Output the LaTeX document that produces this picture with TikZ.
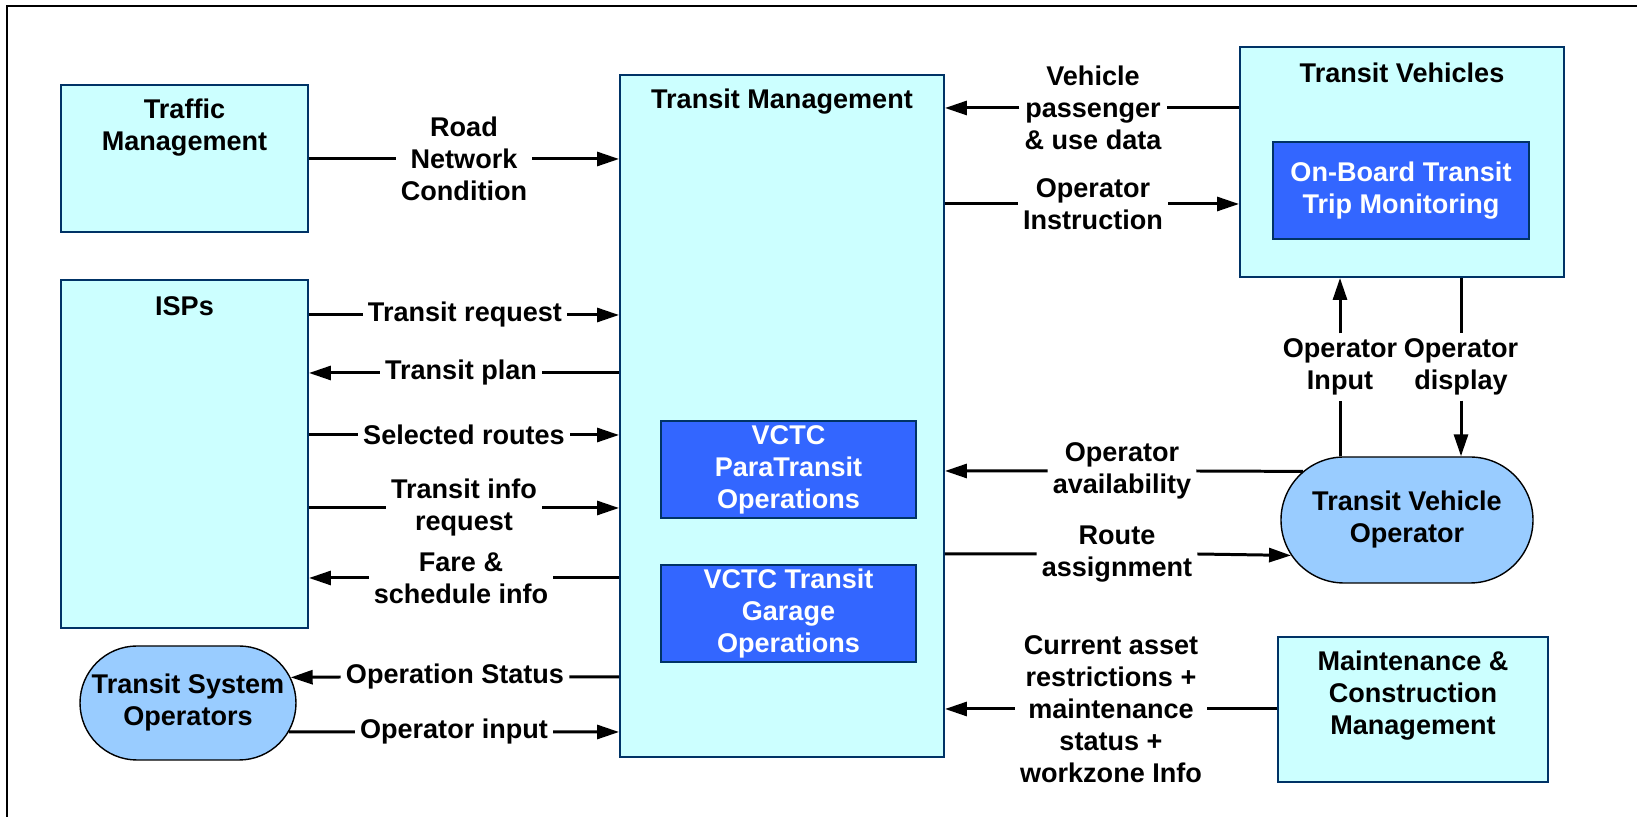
\documentclass[tikz,border=0pt]{standalone}
\usepackage{fontspec}
\setmainfont{Liberation Sans}
\usepackage{tikz}
\usetikzlibrary{arrows.meta, positioning, shapes.misc}
\definecolor{boxnavy}{RGB}{0, 51, 102}
\definecolor{boxcyan}{RGB}{204, 255, 255}
\definecolor{subblue}{RGB}{51, 102, 255}
\definecolor{actorblue}{RGB}{153, 204, 255}

\begin{document}
\begin{tikzpicture}[
    x=0.1mm, y=-0.1mm,
    font=\fontsize{7.7}{9.1}\selectfont\bfseries,
    sysbox/.style={rectangle, draw=boxnavy, fill=boxcyan, line width=0.55pt, inner sep=0pt},
    subbox/.style={rectangle, draw=boxnavy, fill=subblue, line width=0.55pt, text=white, align=center, inner sep=0pt, minimum width=25.5mm, minimum height=9.7mm},
    actor/.style={rounded rectangle, draw=black, fill=actorblue, line width=0.4pt, align=center, inner sep=0pt},
    boxtitle/.style={align=center, inner sep=0pt},
    flowlbl/.style={align=center, inner sep=1.3pt},
    flow/.style={line width=0.85pt, -{Triangle[length=2.2mm, width=1.4mm]}}
]
    \useasboundingbox (0,0) rectangle (1637,817);
    % Frame (top and left only)
    \draw[line width=0.7pt] (7,817) -- (7,6) -- (1637,6);

    % Left column
    \node[sysbox, minimum width=24.7mm, minimum height=14.7mm] (traffic) at (184.5,158.5) {};
    \node[boxtitle] (traffictitle) at (184.5,127.5) {Traffic\\Management};
    \node[sysbox, minimum width=24.7mm, minimum height=34.8mm] (isps) at (184.5,454) {};
    \node[boxtitle] (ispstitle) at (184.5,306) {ISPs};
    \node[actor, minimum width=21.6mm, minimum height=11.4mm] (tso) at (188,703) {Transit System\\Operators};

    % Transit Management
    \node[sysbox, minimum width=32.4mm, minimum height=68.2mm] (tm) at (782,416) {};
    \node[boxtitle] (tmtitle) at (782,102) {Transit Management};
    \node[subbox] (para) at (788.5,469.5) {VCTC\\ParaTransit\\Operations};
    \node[subbox] (garage) at (788.5,613.5) {VCTC Transit\\Garage\\Operations};

    % Right column
    \node[sysbox, minimum width=32.4mm, minimum height=23mm] (tv) at (1402,162) {};
    \node[boxtitle] (tvtitle) at (1402,73) {Transit Vehicles};
    \node[subbox, minimum width=25.6mm] (onboard) at (1401,190.5) {On-Board Transit\\Trip Monitoring};
    \node[actor, minimum width=25.2mm, minimum height=12.6mm] (tvo) at (1407,520) {Transit Vehicle\\Operator};
    \node[sysbox, minimum width=27mm, minimum height=14.5mm] (mcm) at (1413,709.5) {};
    \node[boxtitle] (mcmtitle) at (1413,696) {Maintenance \&\\Construction\\Management};

    % Flow labels
    \node[flowlbl] (road) at (464,159) {Road\\Network\\Condition};
    \node[flowlbl] (treq) at (465,315) {Transit request};
    \node[flowlbl] (tplan) at (461,373) {Transit plan};
    \node[flowlbl] (sel) at (464,435) {Selected routes};
    \node[flowlbl] (tinfo) at (464,508) {Transit info\\request};
    \node[flowlbl] (fare) at (461,578) {Fare \&\\schedule info};
    \node[flowlbl] (opstat) at (455,677) {Operation Status};
    \node[flowlbl] (opin) at (454,732) {Operator input};
    \node[flowlbl] (vdata) at (1093,108) {Vehicle\\passenger\\\& use data};
    \node[flowlbl] (instr) at (1093,204) {Operator\\Instruction};
    \node[flowlbl] (avail) at (1122,471) {Operator\\availability};
    \node[flowlbl] (route) at (1117,554) {Route\\assignment};
    \node[flowlbl] (asset) at (1111,709) {Current asset\\restrictions +\\maintenance\\status +\\workzone Info};
    \node[flowlbl] (vin) at (1340,367) {Operator\\Input};
    \node[flowlbl] (vdisp) at (1461,367) {Operator\\display};

    % Flows to and from the left
    \draw[flow] (traffic.east |- road) -- (road.west) (road.east) -- (tm.west |- road);
    \draw[flow] (isps.east |- treq) -- (treq.west) (treq.east) -- (tm.west |- treq);
    \draw[flow] (tm.west |- tplan) -- (tplan.east) (tplan.west) -- (isps.east |- tplan);
    \draw[flow] (isps.east |- sel) -- (sel.west) (sel.east) -- (tm.west |- sel);
    \draw[flow] (isps.east |- tinfo) -- (tinfo.west) (tinfo.east) -- (tm.west |- tinfo);
    \draw[flow] (tm.west |- fare) -- (fare.east) (fare.west) -- (isps.east |- fare);
    \draw[flow] (tm.west |- opstat) -- (opstat.east) (opstat.west) -- (tso.14);
    \draw[flow] (tso.344) -- (opin.west) (opin.east) -- (tm.west |- opin);

    % Flows to and from the right
    \draw[flow] (tv.west |- vdata) -- (vdata.east) (vdata.west) -- (tm.east |- vdata);
    \draw[flow] (tm.east |- instr) -- (instr.west) (instr.east) -- (tv.west |- instr);
    \draw[flow] (tvo.155) -- (avail.east) (avail.west) -- (tm.east |- avail);
    \draw[flow] (tm.east |- route) -- (route.west) (route.east) -- (tvo.197);
    \draw[flow] (mcm.west |- asset) -- (asset.east) (asset.west) -- (tm.east |- asset);
    \draw[flow] (tvo.north -| vin) -- (vin.south) (vin.north) -- (tv.south -| vin);
    \draw[flow] (tv.south -| vdisp) -- (vdisp.north) (vdisp.south) -- (tvo.north -| vdisp);
\end{tikzpicture}
\end{document}
